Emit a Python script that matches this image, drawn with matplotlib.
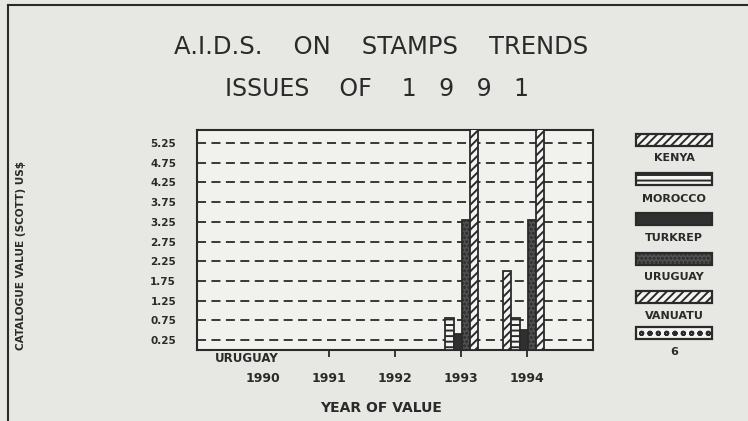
import matplotlib
matplotlib.use("Agg")
import matplotlib.pyplot as plt
from matplotlib.patches import Rectangle
from matplotlib.lines import Line2D
import numpy as np

# ---------------- data ----------------
years = [1990, 1991, 1992, 1993, 1994]
series_names = ["KENYA", "MOROCCO", "TURKREP", "URUGUAY", "VANUATU", "6"]
kenya = [0, 0, 0, 0, 2.0]
morocco = [0, 0, 0, 0.8, 0.8]
turkrep = [0, 0, 0, 0.4, 0.5]
uruguay = [0, 0, 0, 3.3, 3.3]
vanuatu = [0, 0, 0, 6.0, 6.0]
six = [0, 0, 0, 0, 0]
ytick_vals = [0.25, 0.75, 1.25, 1.75, 2.25, 2.75, 3.25, 3.75, 4.25, 4.75, 5.25]
ytick_labels = ["0.25", "0.75", "1.25", "1.75", "2.25", "2.75", "3.25", "3.75", "4.25", "4.75", "5.25"]

plt.rcParams['font.family'] = ['DejaVu Sans']
plt.rcParams['hatch.linewidth'] = 1.4

paper = '#e7e7e3'
ink = '#2a2a2a'

fig = plt.figure(figsize=(7.48, 4.21), dpi=100, facecolor=paper)

W, H = 748, 421
def ax_rect(x0, y0, x1, y1):
    return [x0 / W, 1 - y1 / H, (x1 - x0) / W, (y1 - y0) / H]

ax = fig.add_axes(ax_rect(197, 130, 593, 350))
ax.set_facecolor('#f1f1ee')

styles = [
    dict(facecolor='#f4f4f2', hatch='////', edgecolor=ink),
    dict(facecolor='#f4f4f2', hatch='---', edgecolor=ink),
    dict(facecolor='#303030', hatch=None, edgecolor=ink),
    dict(facecolor='#505050', hatch='....', edgecolor=ink),
    dict(facecolor='#f4f4f2', hatch='////', edgecolor=ink),
    dict(facecolor='#f4f4f2', hatch='oo', edgecolor=ink),
]
all_series = [kenya, morocco, turkrep, uruguay, vanuatu, six]

x = np.array(years, dtype=float)
bw = 0.125
nb = 5
for i in range(nb):
    vals = np.array(all_series[i], dtype=float)
    offs = (i - (nb - 1) / 2) * bw - 0.05
    st = styles[i]
    ax.bar(x + offs, vals, width=bw, facecolor=st['facecolor'], hatch=st['hatch'],
           edgecolor=st['edgecolor'], linewidth=1.3, zorder=3)

ax.set_xlim(1989, 1995)
ax.set_ylim(0, 5.58)

for v in ytick_vals:
    ax.axhline(v, color=ink, lw=1.3, ls=(0, (5, 3)), zorder=1)

ax.set_yticks(ytick_vals)
ax.set_yticklabels(ytick_labels, fontsize=7.5, color=ink, fontweight='bold')
ax.tick_params(axis='y', length=0, pad=15)
ax.set_xticks(years)
ax.set_xticklabels([str(y) for y in years], fontsize=9, color=ink, fontweight='bold')
ax.tick_params(axis='x', length=5, width=1.3, direction='out', pad=11, colors=ink)
for s in ax.spines.values():
    s.set_linewidth(1.5)
    s.set_color(ink)

ax.text(0.125, -0.009, "URUGUAY", transform=ax.transAxes, ha='center', va='top',
        fontsize=8.5, color=ink, fontweight='bold', zorder=5,
        bbox=dict(facecolor=paper, edgecolor='none', pad=0.5))

# titles
fig.text(381 / W, 1 - 47 / H, "A.I.D.S.    ON    STAMPS    TRENDS", ha='center', va='center',
         fontsize=17.5, color=ink)
fig.text(377 / W, 1 - 89 / H, "ISSUES    OF    1   9   9   1", ha='center', va='center',
         fontsize=17, color=ink)
fig.text(381 / W, 1 - 408 / H, "YEAR OF VALUE", ha='center', va='center',
         fontsize=10, color=ink, fontweight='bold')
fig.text(21 / W, 1 - 255 / H, "CATALOGUE VALUE (SCOTT) US$", ha='center', va='center',
         rotation=90, fontsize=7.6, color=ink, fontweight='bold')

# legend (manual, pixel coordinates)
lax = fig.add_axes([0, 0, 1, 1], facecolor='none')
lax.set_xlim(0, W)
lax.set_ylim(H, 0)
lax.axis('off')
patch_tops = [134, 173, 213, 253, 291, 327]
label_y = [158, 199, 238, 277, 316, 352]
for i, name in enumerate(series_names):
    st = styles[i]
    lax.add_patch(Rectangle((636, patch_tops[i]), 76, 12, facecolor=st['facecolor'],
                            hatch=st['hatch'], edgecolor=ink, linewidth=1.6))
    lax.text(674, label_y[i], name, ha='center', va='center', fontsize=8, color=ink,
             fontweight='bold')

# page frame lines
lax.add_line(Line2D([8, W], [5, 5], color=ink, lw=1.5))
lax.add_line(Line2D([8, 8], [5, H], color=ink, lw=1.5))

fig.savefig("out.png", dpi=100, facecolor=paper)
